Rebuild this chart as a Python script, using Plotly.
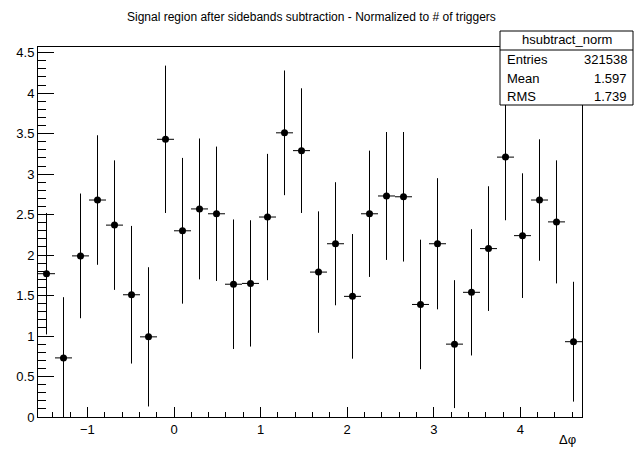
import math
import plotly.graph_objects as go

# ---- data ----
n_bins = 32
x_min = -math.pi / 2
x_max = 3 * math.pi / 2
values = [1.77, 0.73, 1.99, 2.68, 2.37, 1.51, 0.99, 3.43, 2.30, 2.57, 2.51, 1.64,
          1.65, 2.47, 3.51, 3.29, 1.79, 2.14, 1.49, 2.51, 2.73, 2.72, 1.39, 2.14,
          0.90, 1.54, 2.08, 3.21, 2.24, 2.68, 2.41, 0.93]
errors = [0.75, 0.75, 0.77, 0.80, 0.80, 0.85, 0.86, 0.91, 0.90, 0.87, 0.83, 0.80,
          0.78, 0.78, 0.77, 0.77, 0.75, 0.76, 0.77, 0.78, 0.79, 0.80, 0.80, 0.81,
          0.79, 0.78, 0.77, 0.78, 0.77, 0.75, 0.76, 0.74]
title_text = "Signal region after sidebands subtraction - Normalized to # of triggers"
stats_name = "hsubtract_norm"
stats_labels = ["Entries", "Mean", "RMS"]
stats_values = ["321538", "1.597", "1.739"]
x_title = "Δφ"

bw = (x_max - x_min) / n_bins
centers = [x_min + (i + 0.5) * bw for i in range(n_bins)]

W, H = 634, 450
L, R, T, B = 38, 582, 47, 417

def px(x):
    return (x - L) / (R - L)

def py(y):
    return (B - y) / (B - T)

font = "Liberation Sans, Arial, Helvetica, sans-serif"

fig = go.Figure()
fig.add_trace(go.Scatter(
    x=centers, y=values, mode="markers",
    marker=dict(color="black", size=7, symbol="circle"),
    error_x=dict(type="constant", value=bw / 2, width=0, color="black", thickness=1),
    error_y=dict(type="data", array=errors, width=0, color="black", thickness=1),
    showlegend=False,
))

fig.update_layout(
    width=W, height=H,
    margin=dict(l=L, r=W - R, t=T, b=H - B),
    paper_bgcolor="white", plot_bgcolor="white",
    font=dict(family=font, size=13, color="black"),
    xaxis=dict(range=[x_min, x_max], showgrid=False, zeroline=False,
               showline=True, linecolor="black", linewidth=1, mirror=True,
               ticks="inside", ticklen=10, tickcolor="black", dtick=1, tick0=0,
               minor=dict(dtick=0.2, ticks="inside", ticklen=5, tickcolor="black"),
               tickfont=dict(size=13)),
    yaxis=dict(range=[0, 4.57], showgrid=False, zeroline=False,
               showline=True, linecolor="black", linewidth=1, mirror=True,
               ticks="inside", ticklen=16, tickcolor="black", dtick=0.5, tick0=0,
               minor=dict(dtick=0.1, ticks="inside", ticklen=8, tickcolor="black"),
               tickfont=dict(size=13)),
)

shapes = [
    dict(type="rect", xref="paper", yref="paper",
         x0=px(500), x1=px(633), y0=py(105), y1=py(31),
         line=dict(color="black", width=1), fillcolor="white", layer="above"),
    dict(type="line", xref="paper", yref="paper",
         x0=px(500), x1=px(633), y0=py(50), y1=py(50),
         line=dict(color="black", width=1), layer="above"),
]
fig.update_layout(shapes=shapes)

ann = [
    dict(text=title_text, x=px(311), y=py(17), xref="paper", yref="paper",
         showarrow=False, font=dict(size=12), xanchor="center", yanchor="middle"),
    dict(text=stats_name, x=px(567), y=py(40), xref="paper", yref="paper",
         showarrow=False, font=dict(size=13), xanchor="center", yanchor="middle"),
    dict(text=x_title, x=px(578), y=py(439), xref="paper", yref="paper",
         showarrow=False, font=dict(size=13), xanchor="right", yanchor="middle"),
]
for i, (lab, val) in enumerate(zip(stats_labels, stats_values)):
    yy = 60 + i * 18
    ann.append(dict(text=lab, x=px(505), y=py(yy), xref="paper", yref="paper",
                    showarrow=False, font=dict(size=13), xanchor="left", yanchor="middle"))
    ann.append(dict(text=val, x=px(629), y=py(yy), xref="paper", yref="paper",
                    showarrow=False, font=dict(size=13), xanchor="right", yanchor="middle"))
fig.update_layout(annotations=ann)

fig.write_html("out.html")
